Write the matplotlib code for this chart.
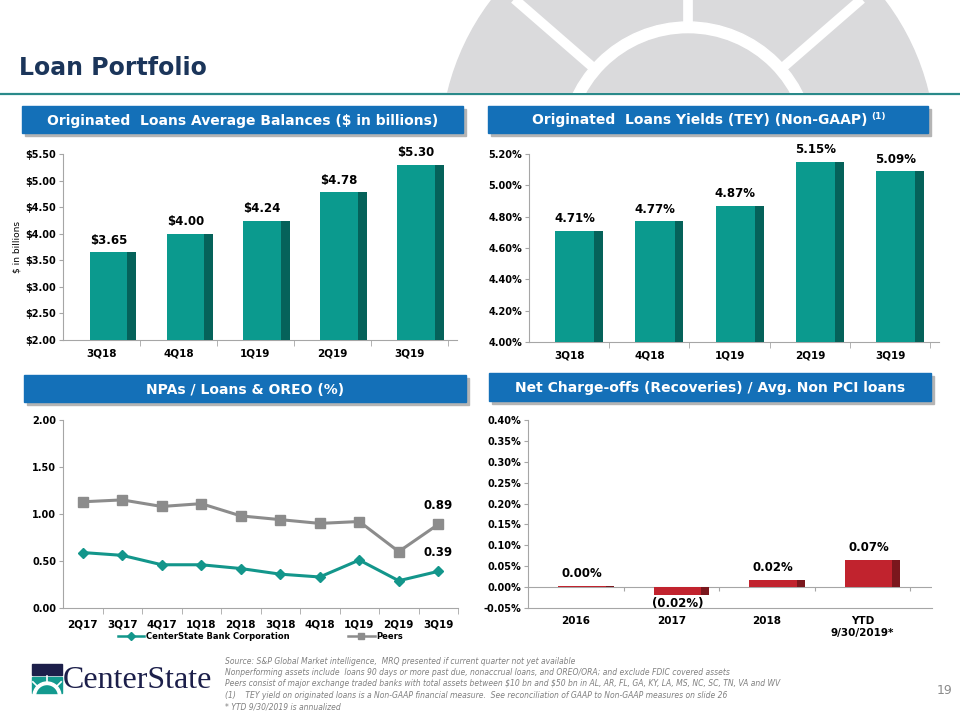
import numpy as np
import matplotlib
matplotlib.use('Agg')
import matplotlib.pyplot as plt
from matplotlib.patches import Rectangle, Circle, Wedge

plt.rcParams['font.family'] = 'DejaVu Sans'
plt.rcParams['font.weight'] = 'bold'

# data
quarters = ['3Q18', '4Q18', '1Q19', '2Q19', '3Q19']
balances = [3.65, 4.00, 4.24, 4.78, 5.30]
yields = [4.71, 4.77, 4.87, 5.15, 5.09]

npa_quarters = ['2Q17', '3Q17', '4Q17', '1Q18', '2Q18', '3Q18', '4Q18', '1Q19', '2Q19', '3Q19']
npa_csb = [0.59, 0.56, 0.46, 0.46, 0.42, 0.36, 0.33, 0.51, 0.29, 0.39]
npa_peers = [1.13, 1.15, 1.08, 1.11, 0.98, 0.94, 0.90, 0.92, 0.60, 0.89]

nco_years = ['2016', '2017', '2018', 'YTD\n9/30/2019*']
nco = [0.003, -0.02, 0.018, 0.066]
nco_labels = ['0.00%', '(0.02%)', '0.02%', '0.07%']

footnotes = [
    'Source: S&P Global Market intelligence,  MRQ presented if current quarter not yet available',
    'Nonperforming assets include  loans 90 days or more past due, nonaccrual loans, and OREO/ORA; and exclude FDIC covered assets',
    'Peers consist of major exchange traded banks with total assets between \\$10 bn and \\$50 bn in AL, AR, FL, GA, KY, LA, MS, NC, SC, TN, VA and WV',
    '(1)    TEY yield on originated loans is a Non-GAAP financial measure.  See reconciliation of GAAP to Non-GAAP measures on slide 26',
    '* YTD 9/30/2019 is annualized',
]

teal = '#0b9a8e'
teal_dark = '#05625a'
red = '#c1232e'
red_dark = '#7a171d'
navy = '#1b355a'
blue = '#1470b8'
axis_gray = '#a6a6a6'

fig = plt.figure(figsize=(9.6, 7.2), dpi=100)

# background layer in pixel coordinates
bg = fig.add_axes([0, 0, 1, 1])
bg.set_xlim(0, 960)
bg.set_ylim(720, 0)
bg.axis('off')

# decorative arc at the top
deco = fig.add_axes([0, 1 - 93 / 720, 1, 93 / 720])
deco.set_xlim(0, 960)
deco.set_ylim(93, 0)
deco.axis('off')
cx, cy = 688, 150
deco.add_patch(Circle((cx, cy), 247, color='#dadadc'))
deco.add_patch(Circle((cx, cy), 128, color='white'))
deco.add_patch(Circle((cx, cy), 116, color='#dadadc'))
for ang in [0, 49, -49]:
    dx, dy = np.sin(np.radians(ang)), -np.cos(np.radians(ang))
    deco.plot([cx + 120 * dx, cx + 260 * dx], [cy + 120 * dy, cy + 260 * dy],
              color='white', lw=7, solid_capstyle='butt')

bg.plot([0, 960], [94, 94], color='#2a8a8a', lw=1.6)
bg.text(19, 68, 'Loan Portfolio', fontsize=17, color=navy, va='center', ha='left')


def header(x0, y0, w, h, text):
    bg.add_patch(Rectangle((x0 + 3, y0 + 3), w, h, color='#b4b4b4', zorder=1))
    bg.add_patch(Rectangle((x0, y0), w, h, color=blue, zorder=2))
    if text:
        bg.text(x0 + w / 2, y0 + h / 2 + 1, text, color='white', fontsize=10,
                ha='center', va='center', zorder=3)


header(22, 106, 441, 27, 'Originated  Loans Average Balances (\\$ in billions)')
header(488, 106, 440, 27, '')
bg.text(868, 120, 'Originated  Loans Yields (TEY) (Non-GAAP)', color='white', fontsize=10,
        ha='right', va='center', zorder=3)
bg.text(871, 117, '(1)', color='white', fontsize=6.5, ha='left', va='center', zorder=3)
header(24, 375, 442, 27, 'NPAs / Loans & OREO (%)')
header(489, 373, 442, 28, 'Net Charge-offs (Recoveries) / Avg. Non PCI loans')


def style_axes(ax):
    for s in ['top', 'right']:
        ax.spines[s].set_visible(False)
    for s in ['left', 'bottom']:
        ax.spines[s].set_color(axis_gray)
        ax.spines[s].set_linewidth(0.8)
    ax.tick_params(axis='y', direction='out', length=3, color=axis_gray, labelsize=7, pad=2)
    ax.tick_params(axis='x', which='major', length=0, labelsize=7.5, pad=6)
    ax.tick_params(axis='x', which='minor', direction='out', length=4, color=axis_gray)
    ax.patch.set_alpha(0)


def bars3d(ax, x, vals, base, w, d, shift, front, side):
    v = np.array(vals) - base
    ax.bar(x + shift, v, bottom=base, width=w, color=front, zorder=3)
    ax.bar(x + shift + w / 2 + d / 2, v, bottom=base, width=d, color=side, zorder=3)


# top left: balances
ax1 = fig.add_axes([63 / 960, 1 - 340 / 720, 394 / 960, 186 / 720])
x = np.arange(len(quarters))
bars3d(ax1, x, balances, 2.0, 0.49, 0.11, 0.09, teal, teal_dark)
ax1.set_xlim(-0.5, len(quarters) - 0.38)
ax1.set_ylim(2.0, 5.5)
ax1.set_yticks(np.linspace(2.0, 5.5, 8))
ax1.set_yticklabels(['\\${:.2f}'.format(v) for v in np.linspace(2.0, 5.5, 8)])
ax1.set_xticks(x)
ax1.set_xticklabels(quarters)
ax1.set_xticks(x + 0.5, minor=True)
ax1.set_ylabel('\\$ in billions', fontsize=6.5, labelpad=3)
style_axes(ax1)
for xi, v in zip(x, balances):
    ax1.annotate('\\${:.2f}'.format(v), (xi + 0.09, v), xytext=(0, 4), textcoords='offset points',
                 ha='center', va='bottom', fontsize=8.5)

# top right: yields
ax2 = fig.add_axes([529 / 960, 1 - 342 / 720, 410 / 960, 188 / 720])
bars3d(ax2, x, yields, 4.0, 0.49, 0.11, 0.07, teal, teal_dark)
ax2.set_xlim(-0.5, len(quarters) - 0.39)
ax2.set_ylim(4.0, 5.2)
yt = np.linspace(4.0, 5.2, 7)
ax2.set_yticks(yt)
ax2.set_yticklabels(['{:.2f}%'.format(v) for v in yt])
ax2.set_xticks(x)
ax2.set_xticklabels(quarters)
ax2.set_xticks(x + 0.5, minor=True)
style_axes(ax2)
for xi, v in zip(x, yields):
    ax2.annotate('{:.2f}%'.format(v), (xi + 0.07, v), xytext=(0, 4), textcoords='offset points',
                 ha='center', va='bottom', fontsize=8.5)

# bottom left: NPAs
ax3 = fig.add_axes([63 / 960, 1 - 608 / 720, 395 / 960, 188 / 720])
xn = np.arange(len(npa_quarters))
ax3.plot(xn, npa_csb, color='#13968b', lw=2.2, marker='D', ms=5.5, label='CenterState Bank Corporation', zorder=3)
ax3.plot(xn, npa_peers, color='#8c8c8c', lw=2.2, marker='s', ms=6.5, label='Peers', zorder=3)
ax3.set_xlim(-0.5, len(npa_quarters) - 0.5)
ax3.set_ylim(0, 2.0)
yt = np.linspace(0, 2.0, 5)
ax3.set_yticks(yt)
ax3.set_yticklabels(['{:.2f}'.format(v) for v in yt])
ax3.set_xticks(xn)
ax3.set_xticklabels(npa_quarters)
ax3.set_xticks(xn + 0.5, minor=True)
style_axes(ax3)
ax3.tick_params(axis='x', which='major', pad=8)
ax3.annotate('{:.2f}'.format(npa_peers[-1]), (xn[-1], npa_peers[-1]), xytext=(0, 9),
             textcoords='offset points', ha='center', va='bottom', fontsize=8.5)
ax3.annotate('{:.2f}'.format(npa_csb[-1]), (xn[-1], npa_csb[-1]), xytext=(0, 9),
             textcoords='offset points', ha='center', va='bottom', fontsize=8.5)
leg = ax3.legend(loc='center', bbox_to_anchor=(0.5, -0.15), ncol=2, frameon=False,
                 fontsize=6, handlelength=3.2, columnspacing=7, handletextpad=0.2)
for h in leg.legend_handles:
    h.set_markersize(4)
    h.set_linewidth(1.8)

# bottom right: net charge-offs
ax4 = fig.add_axes([528 / 960, 1 - 608 / 720, 404 / 960, 188 / 720])
xc = np.arange(len(nco_years))
bars3d(ax4, xc, nco, 0.0, 0.5, 0.085, 0.065, red, red_dark)
ax4.set_xlim(-0.5, len(nco_years) - 0.27)
ax4.set_ylim(-0.05, 0.40)
yt = np.linspace(-0.05, 0.40, 10)
ax4.set_yticks(yt)
ax4.set_yticklabels(['{:.2f}%'.format(v) for v in yt])
ax4.set_xticks(xc)
ax4.set_xticklabels(nco_years)
style_axes(ax4)
ax4.tick_params(axis='x', which='major', pad=6)
ax4.axhline(0, color=axis_gray, lw=0.8, zorder=2)
ax4.vlines(xc + 0.5, -0.009, 0, color=axis_gray, lw=0.8)
for xi, v, lab in zip(xc, nco, nco_labels):
    if v >= 0:
        ax4.annotate(lab, (xi + 0.065, v), xytext=(0, 4), textcoords='offset points',
                     ha='center', va='bottom', fontsize=8.5)
    else:
        ax4.annotate(lab, (xi + 0.065, v), xytext=(0, -1), textcoords='offset points',
                     ha='center', va='top', fontsize=8.5)

# logo
bg.add_patch(Rectangle((32, 664), 30, 11, color='#1c1f4a'))
bg.add_patch(Rectangle((32, 677), 30, 16, color='#139a8f'))
bg.add_patch(Wedge((47, 696), 14, 180, 360, width=2.5, color='white'))
for ang in [0, 45, -45]:
    dx, dy = np.sin(np.radians(ang)), -np.cos(np.radians(ang))
    bg.plot([47 + 12 * dx, 47 + 20 * dx], [696 + 12 * dy, 696 + 20 * dy], color='white', lw=1.2)
bg.text(63, 680, 'CenterState', fontsize=23, family='Liberation Serif', weight='normal',
        color='#1c1f4a', ha='left', va='center')

# footnotes
for i, line in enumerate(footnotes):
    bg.text(225, 661 + i * 11.5, line, fontsize=5.5, style='italic', weight='normal',
            color='#808080', ha='left', va='center')
bg.text(945, 690, '19', fontsize=9, weight='normal', color='#8a8a8a', ha='center', va='center')

fig.savefig('out.png', dpi=100)
